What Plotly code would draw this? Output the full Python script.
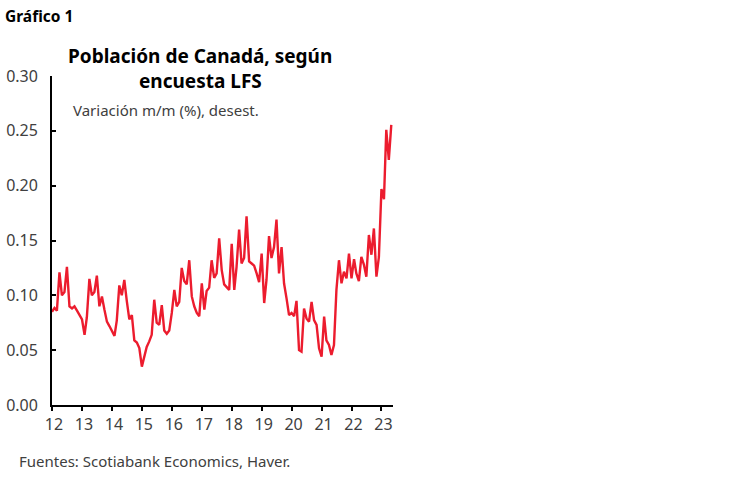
import pandas as pd
import plotly.graph_objects as go

# Población de Canadá (LFS), variación m/m (%), desest. - ene 2012 a may 2023
months = pd.date_range("2012-01-01", periods=137, freq="MS")
pop_change = [
    0.085, 0.0885, 0.086, 0.121, 0.10, 0.103, 0.126, 0.09, 0.088, 0.09,
    0.086, 0.082, 0.078, 0.064, 0.08, 0.115, 0.10, 0.103, 0.118, 0.09,
    0.099, 0.087, 0.076, 0.072, 0.067, 0.063, 0.077, 0.109, 0.10, 0.114,
    0.095, 0.078, 0.082, 0.059, 0.057,
    0.052, 0.035, 0.044, 0.053, 0.058, 0.064, 0.096, 0.075, 0.073, 0.091,
    0.068, 0.065, 0.068, 0.084, 0.105, 0.090, 0.094, 0.125, 0.113, 0.110,
    0.132, 0.099, 0.090, 0.084, 0.081, 0.111, 0.087, 0.104, 0.107, 0.132,
    0.116, 0.120, 0.152, 0.123,
    0.11, 0.107, 0.105, 0.147, 0.105, 0.126, 0.16, 0.129, 0.134, 0.172,
    0.131, 0.129, 0.127, 0.12, 0.112, 0.138, 0.093, 0.114, 0.154, 0.134,
    0.144, 0.169, 0.12, 0.144, 0.111, 0.097, 0.082, 0.084, 0.081, 0.095,
    0.05, 0.0486, 0.088, 0.079, 0.076, 0.094, 0.0775, 0.073, 0.0517, 0.044,
    0.0806, 0.059, 0.0547, 0.0456, 0.0547, 0.105, 0.132, 0.111, 0.1216, 0.1155,
    0.138, 0.1155, 0.133, 0.12, 0.113, 0.135, 0.128, 0.117, 0.155, 0.137,
    0.161, 0.117, 0.135, 0.197, 0.1876, 0.251, 0.2235, 0.2555,
]

year_ticks = pd.date_range("2012-01-01", "2023-01-01", freq="YS")
year_labels = ["12", "13", "14", "15", "16", "17", "18", "19", "20", "21", "22", "23"]
y_ticks = [0, 0.05, 0.10, 0.15, 0.20, 0.25, 0.30]

FONT = "Noto Sans"
RED = "#ec1c2e"
GREY = "#404040"

W, H = 748, 483
ML, MR, MT, MB = 52, 355, 76, 78

fig = go.Figure()

fig.add_trace(go.Scatter(
    x=months,
    y=pop_change,
    mode="lines",
    line=dict(color=RED, width=2.4),
    showlegend=False,
))

fig.update_layout(
    width=W,
    height=H,
    margin=dict(l=ML, r=MR, t=MT, b=MB),
    paper_bgcolor="white",
    plot_bgcolor="white",
    font=dict(family=FONT, size=16, color=GREY),
    xaxis=dict(
        range=["2012-01-01", "2023-05-22"],
        tickvals=year_ticks,
        ticktext=year_labels,
        ticks="outside",
        ticklen=4,
        tickwidth=1.5,
        tickcolor="black",
        ticklabelshift=2,
        showline=True,
        linecolor="black",
        linewidth=1.8,
        showgrid=False,
        zeroline=False,
        automargin=False,
        tickfont=dict(size=16, color=GREY),
    ),
    yaxis=dict(
        range=[0, 0.30],
        tickvals=y_ticks,
        tickformat=".2f",
        ticks="inside",
        ticklen=4,
        tickwidth=1.5,
        tickcolor="black",
        ticklabelstandoff=9,
        showline=True,
        linecolor="black",
        linewidth=1.8,
        showgrid=False,
        zeroline=False,
        automargin=False,
        tickfont=dict(size=16, color=GREY),
    ),
)


def add_text(text, px, py, anchor, size, color):
    # pixel -> coordenadas paper (relativas al area del grafico)
    fig.add_annotation(
        text=text,
        x=(px - ML) / (W - ML - MR),
        y=(H - MB - py) / (H - MT - MB),
        xref="paper", yref="paper",
        xanchor=anchor, yanchor="middle",
        showarrow=False,
        font=dict(family=FONT, size=size, color=color),
    )


add_text("<b>Gráfico 1</b>", 3, 16, "left", 15.5, "black")
add_text("<b>Población de Canadá, según</b>", 200, 56, "center", 19, "black")
add_text("<b>encuesta LFS</b>", 200, 81, "center", 19, "black")
add_text("Variación m/m (%), desest.", 71, 110, "left", 15, GREY)
add_text("Fuentes: Scotiabank Economics, Haver.", 17, 461, "left", 15, GREY)

# quitar el margen del body para que el grafico empiece en (0, 0)
fig.write_html(
    "out.html",
    config={"displayModeBar": False},
    post_script="document.body.style.margin='0';",
)
